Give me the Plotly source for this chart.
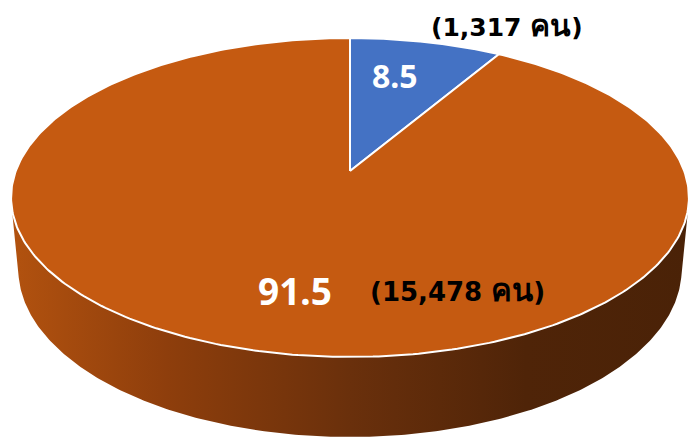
import numpy as np
import plotly.graph_objects as go

# ---- data ----
percent_values = [8.5, 91.5]
people_counts = [1317, 15478]
unit_text = "คน"
slice_colors = ["#4472C4", "#C55A11"]
side_colorscale = [[0.0, "#B2520F"], [0.23, "#8E3E0C"], [0.5, "#6A300C"],
                   [0.76, "#4F2408"], [1.0, "#4A2207"]]

# ---- 3D pie projection (perspective) ----
CX, CY = 350.0, 171.0
SIN_P, COS_P = 0.464, 0.8858
DIST, FOCAL = 5.332, 1782.0
THICK = 0.2445


def project(t, y):
    """t: angle from top, clockwise (radians); y: height (0 top face)."""
    X = np.sin(t)
    Z = np.cos(t)
    u = y * COS_P + Z * SIN_P
    w = Z * COS_P - y * SIN_P + DIST
    return CX + FOCAL * X / w, CY - FOCAL * u / w


def apex(y):
    u = y * COS_P
    w = -y * SIN_P + DIST
    return CX, CY - FOCAL * u / w


fracs = np.array(percent_values) / np.sum(percent_values)
bounds = np.concatenate([[0.0], np.cumsum(fracs)]) * 2 * np.pi

# silhouette of the cylinder side
t_sil = np.arccos(-1.0 / (DIST * COS_P))
front_lo, front_hi = t_sil, 2 * np.pi - t_sil

fig = go.Figure()

# side walls (front, visible part)
for i in range(len(fracs)):
    a = max(bounds[i], front_lo)
    b = min(bounds[i + 1], front_hi)
    if b <= a:
        continue
    ts = np.linspace(a, b, 300)
    xt, yt = project(ts, 0.0)
    xb, yb = project(ts[::-1], -THICK)
    xs = np.concatenate([xt, xb, xt[:1]])
    ys = np.concatenate([yt, yb, yt[:1]])
    fig.add_trace(go.Scatter(
        x=xs, y=ys, mode="lines", fill="toself",
        line=dict(width=0, color="rgba(0,0,0,0)"),
        fillgradient=dict(type="horizontal", colorscale=side_colorscale),
        hoverinfo="skip", showlegend=False))

# top face slices
for i in range(len(fracs)):
    ts = np.linspace(bounds[i], bounds[i + 1], 400)
    xa, ya = project(ts, 0.0)
    ax, ay = apex(0.0)
    xs = np.concatenate([[ax], xa, [ax]])
    ys = np.concatenate([[ay], ya, [ay]])
    fig.add_trace(go.Scatter(
        x=xs, y=ys, mode="lines", fill="toself",
        fillcolor=slice_colors[i],
        line=dict(color="white", width=2),
        hoverinfo="skip", showlegend=False))

PCT_FONT = "'Noto Sans', sans-serif"
CNT_FONT = "'DejaVu Sans', 'Noto Sans', sans-serif"

label_pos = [(395, 75), (295, 290)]
count_pos = [(507, 25), (457, 290)]
pct_sizes = [32, 37]
count_sizes = [25, 26]

for i in range(len(fracs)):
    fig.add_annotation(x=label_pos[i][0], y=label_pos[i][1], xref="x", yref="y",
                       text=f"{percent_values[i]:.1f}", showarrow=False,
                       xanchor="center", yanchor="middle",
                       font=dict(family=PCT_FONT, size=pct_sizes[i], color="white", weight="bold"))
    unit_size = int(round(count_sizes[i] * 1.2))
    fig.add_annotation(x=count_pos[i][0], y=count_pos[i][1], xref="x", yref="y",
                       text=(f"({people_counts[i]:,} "
                             f"<span style='font-size:{unit_size}px'><b>{unit_text}</b></span>)"),
                       showarrow=False,
                       xanchor="center", yanchor="middle",
                       font=dict(family=CNT_FONT, size=count_sizes[i], color="black", weight="bold"))

fig.update_xaxes(range=[0, 689], visible=False, fixedrange=True)
fig.update_yaxes(range=[439, 0], visible=False, fixedrange=True)
fig.update_layout(width=689, height=439, autosize=False,
                  margin=dict(l=0, r=0, t=0, b=0),
                  paper_bgcolor="white", plot_bgcolor="white",
                  showlegend=False)

fig.write_html("out.html", config={"displayModeBar": False},
               post_script="document.body.style.margin='0';document.body.style.overflow='hidden';")
